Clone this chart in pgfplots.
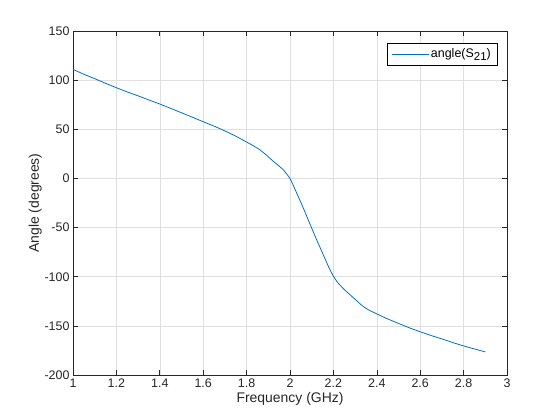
\documentclass[border=0pt]{standalone}
\usepackage{pgfplots}
\pgfplotsset{compat=1.18}
\usepackage{fontspec}
\setmainfont{Liberation Sans}
\definecolor{mblue}{RGB}{0,114,189}
\definecolor{axgray}{RGB}{38,38,38}
\definecolor{gridgray}{RGB}{223,223,223}

\begin{document}
\begin{tikzpicture}[x=1bp,y=1bp]
\begin{axis}[
  scale only axis,
  width=434bp, height=344bp,
  xmin=1, xmax=3, ymin=-200, ymax=150,
  xtick={1,1.2,1.4,1.6,1.8,2,2.2,2.4,2.6,2.8,3},
  ytick={-200,-150,-100,-50,0,50,100,150},
  xticklabels={1,1.2,1.4,1.6,1.8,2,2.2,2.4,2.6,2.8,3},
  /pgf/number format/assume math mode=true,
  tick label style={font=\fontsize{12.5}{14}\selectfont, text=axgray},
  label style={font=\fontsize{14}{16}\selectfont, text=axgray},
  xlabel={Frequency (GHz)},
  ylabel={Angle (degrees)},
  xlabel style={yshift=2bp},
  ylabel style={yshift=-4bp},
  grid=major,
  major grid style={gridgray, line width=0.5bp},
  axis line style={axgray, line width=0.6bp},
  tick style={axgray, line width=0.6bp},
  tick align=inside,
  major tick length=5bp,
  legend style={at={(0.977,0.965)}, anchor=north east, draw=black, line width=0.5bp,
    font=\fontsize{12.5}{14}\selectfont, inner xsep=4bp, inner ysep=3.5bp},
  legend cell align=left,
  legend image code/.code={\draw[#1, line width=0.6bp] (0bp,0bp) -- (37bp,0bp);},
]
\addplot[color=mblue, line width=0.8bp, smooth, tension=0.35] coordinates {
(1.00,111)(1.05,106)(1.10,101.5)(1.15,96.8)(1.20,92.3)(1.25,88)(1.30,84)(1.35,79.8)
(1.40,75.7)(1.45,71.3)(1.50,66.8)(1.55,62.3)(1.60,57.7)(1.65,53.2)(1.70,48.3)
(1.75,43)(1.80,37)(1.83,33.4)(1.86,29.3)(1.89,24)(1.92,18)(1.95,12.5)(1.97,8.5)
(1.99,3)(2.00,0)(2.02,-9.5)(2.04,-19.5)(2.06,-29.5)(2.08,-40)(2.10,-50.5)
(2.12,-61)(2.14,-71)(2.16,-81)(2.18,-91)(2.20,-99.5)(2.22,-106)(2.25,-113)
(2.28,-119)(2.31,-125)(2.33,-129)(2.36,-133.5)(2.40,-137.8)(2.44,-142)
(2.50,-147.5)(2.55,-152)(2.60,-156)
(2.65,-159.8)(2.70,-163.3)(2.75,-167)(2.80,-170.4)(2.85,-173.5)(2.90,-176.5)
};
\addlegendentry{angle(S\raisebox{-0.45ex}{\fontsize{11.5}{12}\selectfont 21})}
\end{axis}
\path (current axis.south west) ++(-73bp,-45bp) rectangle ++(560bp,420bp);
\end{tikzpicture}
\end{document}
